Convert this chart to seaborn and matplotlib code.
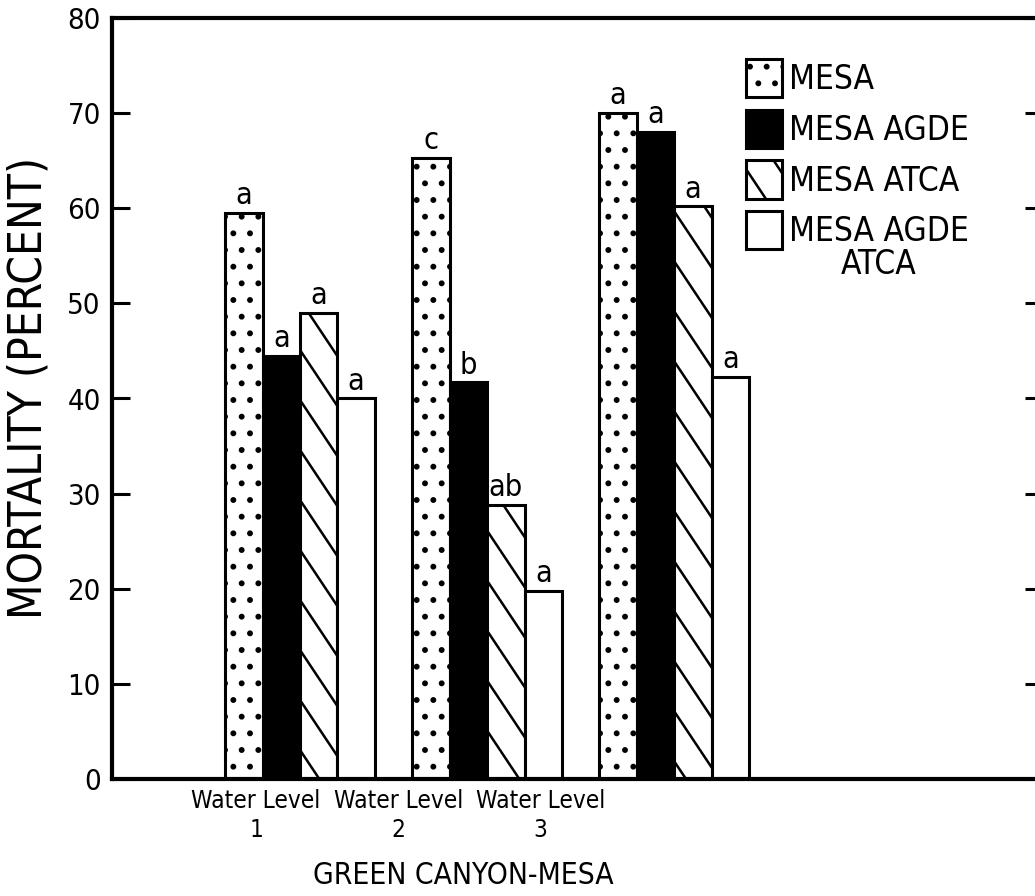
import numpy as np
import pandas as pd
import matplotlib
matplotlib.use("Agg")
import matplotlib.pyplot as plt
import matplotlib.hatch as mhatch
from matplotlib.path import Path
from matplotlib.patches import Patch
import seaborn as sns

# ---- data -------------------------------------------------------------
levels = ["1", "2", "3"]
treatments = ["MESA", "MESA AGDE", "MESA ATCA", "MESA AGDE\nATCA"]
mesa = [59.5, 65.3, 70.0]
mesa_agde = [44.5, 41.7, 68.0]
mesa_atca = [49.0, 28.8, 60.2]
mesa_agde_atca = [40.0, 19.8, 42.3]
letters_mesa = ["a", "c", "a"]
letters_mesa_agde = ["a", "b", "a"]
letters_mesa_atca = ["a", "ab", "a"]
letters_mesa_agde_atca = ["a", "a", "a"]
yticks = [0, 10, 20, 30, 40, 50, 60, 70, 80]
xlabel = "GREEN CANYON-MESA"
ylabel = "MORTALITY (PERCENT)"

series = [mesa, mesa_agde, mesa_atca, mesa_agde_atca]
letters = [letters_mesa, letters_mesa_agde, letters_mesa_atca,
           letters_mesa_agde_atca]


# ---- steep, widely spaced backslash hatch ------------------------------
class SteepBackslashHatch(mhatch.HatchPatternBase):
    """Backslash lines at a 3:2 slope, two per hatch tile vertically."""
    intercepts = np.arange(0.0, 2.51, 0.5)

    def __init__(self, hatch, density):
        self.num_lines = len(self.intercepts) if "\\" in hatch else 0
        self.num_vertices = 2 * self.num_lines

    def set_vertices_and_codes(self, vertices, codes):
        for i, c in enumerate(self.intercepts):
            vertices[2 * i] = (0.0, c)
            vertices[2 * i + 1] = (1.0, c - 1.5)
        codes[0::2] = Path.MOVETO
        codes[1::2] = Path.LINETO


mhatch._hatch_types = [SteepBackslashHatch if t is mhatch.SouthEastHatch else t
                       for t in mhatch._hatch_types]

# ---- style ------------------------------------------------------------
sns.set_style("ticks")
plt.rcParams["font.family"] = ["DejaVu Sans"]
plt.rcParams["font.stretch"] = "condensed"
plt.rcParams["hatch.linewidth"] = 1.8
plt.rcParams["hatch.color"] = "black"
for key in ["text.color", "axes.labelcolor", "xtick.color", "ytick.color",
            "axes.edgecolor"]:
    plt.rcParams[key] = "black"

fills = ["white", "black", "white", "white"]
hatches = [".", "", "\\", ""]
edge_lw = 2.2

df = pd.DataFrame({
    "level": np.repeat(levels, len(treatments)),
    "treatment": treatments * len(levels),
    "mortality": [series[j][i] for i in range(len(levels))
                  for j in range(len(treatments))],
})

fig = plt.figure(figsize=(10.35, 8.96), dpi=100)
ax = fig.add_axes([112 / 1035, 1 - 779 / 896, 931 / 1035, 761 / 896])

sns.barplot(data=df, x="level", y="mortality", hue="treatment",
            order=levels, hue_order=treatments, palette=fills,
            saturation=1, width=0.8, errorbar=None, edgecolor="black",
            linewidth=edge_lw, legend=False, ax=ax)

for cont, hatch, labs in zip(ax.containers, hatches, letters):
    for bar in cont:
        bar.set_hatch(hatch)
    ax.bar_label(cont, labels=labs, padding=2, fontsize=22)

# ---- axes -------------------------------------------------------------
ax.set_ylim(0, 80)
ax.set_xlim(-1.005, 3.97)
ax.set_yticks(yticks)
ax.set_yticklabels([str(v) for v in yticks])
tick_pos = np.arange(len(levels)) * 0.759 - 0.235
ax.set_xticks(tick_pos, labels=[f"Water Level\n{lv}" for lv in levels])
for t in ax.get_xticklabels():
    t.set_linespacing(1.3)

ax.tick_params(axis="y", direction="in", length=13, width=2.2,
               left=True, right=True, labelsize=21, pad=8)
ax.tick_params(axis="x", length=0, labelsize=17.5, pad=7)
for side in ["left", "right", "top", "bottom"]:
    ax.spines[side].set_visible(True)
    ax.spines[side].set_linewidth(3)
    ax.spines[side].set_color("black")

ax.set_ylabel(ylabel, fontsize=33)
ax.yaxis.set_label_coords(-0.065, 0.514)
ax.set_xlabel(xlabel, fontsize=21.5)
ax.xaxis.set_label_coords(0.377, -0.108)

# ---- legend -----------------------------------------------------------
# first line of each name goes in the legend; any further line is set
# centred underneath it
legend_fs = 24
first_lines = [name.split("\n")[0] for name in treatments]
handles = [Patch(facecolor=f, edgecolor="black", hatch=h, linewidth=edge_lw)
           for f, h in zip(fills, hatches)]
leg = fig.legend(handles, first_lines, loc="upper left",
                 bbox_to_anchor=(746 / 1035, 1 - 59 / 896),
                 bbox_transform=fig.transFigure, frameon=False,
                 fontsize=legend_fs, handlelength=1.08, handleheight=1.38,
                 handletextpad=0.2, labelspacing=0.38, borderpad=0,
                 borderaxespad=0)

fig.canvas.draw()
inv = fig.transFigure.inverted()
for name, txt in zip(treatments, leg.get_texts()):
    extra = name.split("\n")[1:]
    if not extra:
        continue
    bb = txt.get_window_extent()
    x0, y0 = inv.transform(((bb.x0 + bb.x1) / 2, bb.y0))
    fig.text(x0, y0, "\n".join(extra), ha="center", va="top",
             fontsize=legend_fs)

fig.savefig("out.png", dpi=100)
